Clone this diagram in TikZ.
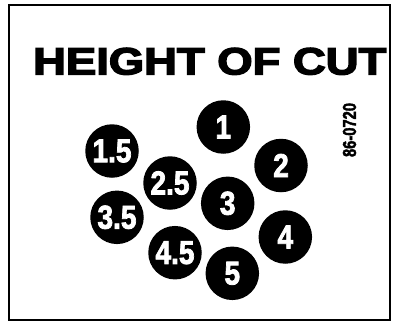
\documentclass[tikz,border=0pt]{standalone}
\usepackage{fontspec}
\setmainfont{Liberation Sans}
\newfontfamily\heavyfont{Liberation Sans Bold}[FakeBold=3.5]
\newfontfamily\digitfont{Liberation Sans Bold}[FakeBold=2.5]
\begin{document}
\begin{tikzpicture}[x=1pt,y=-1pt,
  dot/.style={circle,fill=black,minimum size=53.5pt,inner sep=0pt,
    text=white,font=\fontsize{33}{33}\digitfont},
  frame/.style={draw=black,line width=2pt}]
\useasboundingbox (0,0) rectangle (401,324);
\draw[frame] (9,5) rectangle (390,320);
\node[anchor=north west,inner sep=0pt] (title) at (33,47.7)
  {\resizebox{353pt}{26.5pt}{\heavyfont HEIGHT OF CUT}};
\node[rotate=90,inner sep=0pt] (code) at (349.5,130)
  {\resizebox{54pt}{13pt}{\digitfont 86-0720}};
\node[dot] (c1)  at (223.3,127)   {\scalebox{0.85}[1]{1}};
\node[dot] (c15) at (112,151)     {\scalebox{0.85}[1]{1.5}};
\node[dot] (c2)  at (281,165.5)   {\scalebox{0.85}[1]{2}};
\node[dot] (c25) at (170,183)     {\scalebox{0.85}[1]{2.5}};
\node[dot] (c3)  at (227.7,203.3) {\scalebox{0.85}[1]{3}};
\node[dot] (c35) at (117,217.3)   {\scalebox{0.85}[1]{3.5}};
\node[dot] (c4)  at (285.3,237)   {\scalebox{0.85}[1]{4}};
\node[dot] (c45) at (175,252.7)   {\scalebox{0.85}[1]{4.5}};
\node[dot] (c5)  at (232.3,273.3) {\scalebox{0.85}[1]{5}};
\end{tikzpicture}
\end{document}
